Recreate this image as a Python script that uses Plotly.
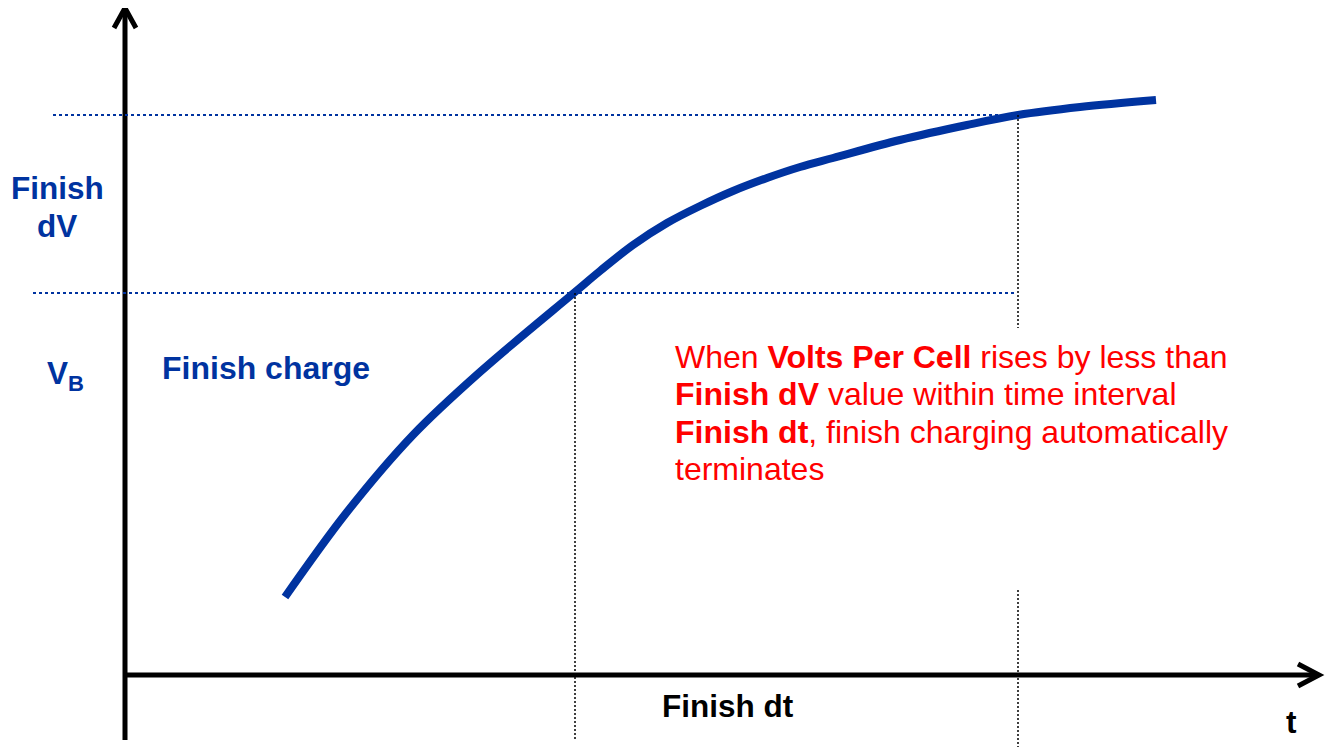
import plotly.graph_objects as go

# Conceptual data: time (t) and cell voltage (V), origin at axes intersection
curve_t = [160, 222, 288, 355, 450, 475, 508, 542, 575, 608, 642, 675, 708, 775, 842, 893, 955, 1031]
curve_v = [78, 163, 240, 303, 383, 404, 430, 452, 469, 484, 497, 508, 517, 535, 550, 560, 568, 575]

level_vb = 382          # V_B level
level_finish = 560      # V_B + Finish dV
t_start_dt = 450        # start of Finish dt interval
t_end_dt = 893          # end of Finish dt interval

BLUE = "#0033a0"
RED = "#ff0000"
FONT = "Liberation Sans, Arial, sans-serif"

fig = go.Figure()

fig.add_trace(go.Scatter(x=curve_t, y=curve_v, mode="lines",
                         line=dict(color=BLUE, width=8, shape="spline", smoothing=1.0),
                         hoverinfo="skip", showlegend=False))

shapes = []
# axes
shapes.append(dict(type="line", x0=0, x1=0, y0=-65, y1=665, line=dict(color="black", width=5)))
shapes.append(dict(type="line", x0=0, x1=1192, y0=0, y1=0, line=dict(color="black", width=5)))
# arrowheads
shapes.append(dict(type="path", path="M -11,647 L 0,667 L 11,647", line=dict(color="black", width=5)))
shapes.append(dict(type="path", path="M 1173,11 L 1194,0 L 1173,-11", line=dict(color="black", width=5)))
# blue dotted levels
shapes.append(dict(type="line", x0=-72, x1=t_end_dt, y0=level_finish, y1=level_finish,
                   line=dict(color=BLUE, width=2, dash="dot")))
shapes.append(dict(type="line", x0=-92, x1=t_end_dt - 2, y0=level_vb, y1=level_vb,
                   line=dict(color=BLUE, width=2, dash="dot")))
# black dotted verticals
shapes.append(dict(type="line", x0=t_start_dt, x1=t_start_dt, y0=level_vb, y1=-65,
                   line=dict(color="black", width=1.5, dash="2px,2px")))
shapes.append(dict(type="line", x0=t_end_dt, x1=t_end_dt, y0=level_finish, y1=347,
                   line=dict(color="black", width=1.5, dash="2px,2px")))
shapes.append(dict(type="line", x0=t_end_dt, x1=t_end_dt, y0=85, y1=-72,
                   line=dict(color="black", width=1.5, dash="2px,2px")))

ann = []
def text(x, y, s, color, size=32, xanchor="center"):
    ann.append(dict(x=x, y=y, text=s, showarrow=False, xanchor=xanchor, yanchor="middle",
                    font=dict(family=FONT, size=size, color=color)))

text(-68, 487, "<b>Finish</b>", BLUE, size=31.5)
text(-68, 449, "<b>dV</b>", BLUE, size=31.5)
text(-60, 300, "<b>V<sub>B</sub></b>", BLUE, size=31.5)
text(35, 307, "<b>Finish charge</b>", BLUE, xanchor="left")
text(603, -31, "<b>Finish dt</b>", "black", size=31.5)
text(1166, -47, "<b>t</b>", "black", size=31.5)

red_lines = [
    "When <b>Volts Per Cell</b> rises by less than",
    "<b>Finish dV</b> value within time interval",
    "<b>Finish dt</b>, finish charging automatically",
    "terminates",
]
for i, s in enumerate(red_lines):
    text(548, 318 - 37.3 * i, s, RED, xanchor="left")

# page body adds an 8px margin, so the figure is sized to fit the window
fig.update_layout(
    width=1325, height=739, margin=dict(l=0, r=0, t=0, b=0),
    paper_bgcolor="white", plot_bgcolor="white",
    xaxis=dict(range=[-117, 1208], visible=False),
    yaxis=dict(range=[-72, 667], visible=False),
    shapes=shapes, annotations=ann, showlegend=False,
)

fig.write_html("out.html")
